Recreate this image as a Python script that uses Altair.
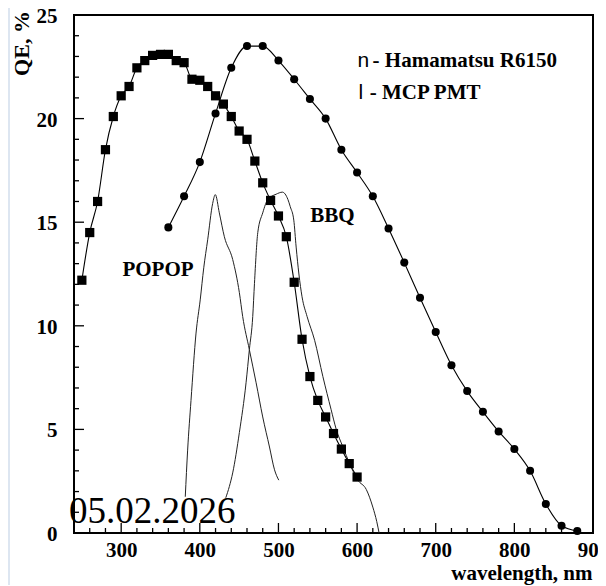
import altair as alt
import pandas as pd

# ---------------- data ----------------
ham_wl = [250, 260, 270, 280, 290, 300, 310, 320, 330, 340, 350, 360, 370, 380,
          390, 400, 410, 420, 430, 440, 450, 460, 470, 480, 490, 500, 510, 520,
          530, 540, 550, 560, 570, 580, 590, 600]
ham_qe = [12.2, 14.5, 16.0, 18.5, 20.1, 21.1, 21.55, 22.45, 22.8, 23.05, 23.1, 23.1,
          22.8, 22.7, 21.9, 21.85, 21.55, 21.1, 20.7, 20.1, 19.4, 19.0, 17.95, 16.9,
          16.05, 15.3, 14.3, 12.1, 9.35, 7.55, 6.4, 5.6, 4.8, 4.05, 3.35, 2.7]

mcp_wl = [360, 380, 400, 420, 440, 460, 480, 500, 520, 540, 560, 580, 600, 620,
          640, 660, 680, 700, 720, 740, 760, 780, 800, 820, 840, 860, 880]
mcp_qe = [14.75, 16.25, 17.9, 20.25, 22.45, 23.5, 23.5, 22.8, 21.9, 20.95, 20.0,
          18.5, 17.4, 16.25, 14.7, 13.05, 11.35, 9.7, 8.1, 6.85, 5.85, 4.9, 4.05,
          3.0, 1.4, 0.35, 0.1]

popop_wl = [381.5, 384.5, 388.8, 395.2, 400.5, 405, 410, 416.3, 419.7, 424.8, 431.2,
            441.8, 450.3, 454.5, 463, 471.6, 480, 488.6, 495, 500.4]
popop_em = [1.75, 4.0, 6.4, 9.65, 11.25, 12.8, 14.15, 15.9, 16.33, 15.45, 14.3,
            13.2, 11.6, 10.45, 8.85, 7.25, 5.6, 4.15, 3.05, 2.55]

bbq_wl = [433, 437.6, 441.8, 450.3, 458.8, 463, 467.3, 469.5, 473.7, 480, 486.5,
          497, 505, 512, 515, 519.5, 522.5, 526, 530, 536.4, 546, 556.5, 567,
          573.5, 582, 590.5, 601, 611.7, 620, 625, 628]
bbq_em = [1.7, 2.25, 2.9, 4.85, 7.25, 8.85, 10.45, 12.05, 14.5, 15.45, 16.1,
          16.35, 16.45, 16.1, 15.75, 15.1, 13.8, 12.5, 11.4, 10.45, 9.3, 7.55,
          5.95, 5.0, 4.15, 3.35, 2.55, 2.1, 1.25, 0.55, 0.0]

x_labels = [300, 400, 500, 600, 700, 800, 900]
y_labels = [0, 5, 10, 15, 20, 25]
x_major_ticks = [300, 400, 500, 600, 700, 800]
x_minor_ticks = [260, 280, 320, 340, 360, 380, 420, 440, 460, 480, 520, 540, 560,
                 580, 620, 640, 660, 680, 720, 740, 760, 780, 820, 840, 860, 880]
y_major_ticks = [5, 10, 15, 20]
y_minor_ticks = [1, 2, 3, 4, 6, 7, 8, 9, 11, 12, 13, 14, 16, 17, 18, 19, 21, 22, 23, 24]

curve_labels = ["POPOP", "BBQ"]
curve_label_x = [346.8, 568.7]
curve_label_y = [12.4, 15.0]

legend_symbols = ["n", "l"]
legend_sym_x = [600.6, 601.9]
legend_texts = ["- Hamamatsu R6150", "- MCP PMT"]
legend_text_x = [619.7, 616.0]
legend_y = [22.5, 20.93]

date_text = ["05.02.2026"]
date_x = [233.6]
date_y = [0.5]

# ---------------- chart ----------------
W, H = 519, 518
SERIF = "Liberation Serif"

xs = alt.Scale(domain=[240, 900], nice=False, zero=False)
ys = alt.Scale(domain=[0, 25], nice=False, zero=False)

x_axis = alt.Axis(values=x_labels, format="d", title="wavelength, nm", grid=False,
                  ticks=False, tickSize=0, domain=False, labelFont=SERIF,
                  labelFontWeight="bold", labelFontSize=21, labelColor="black",
                  labelPadding=6, labelFlush=False, labelOverlap=False,
                  titleFont=SERIF, titleFontWeight="bold", titleFontSize=21,
                  titleColor="black", titleX=518, titleY=46, titleAlign="right",
                  titleBaseline="alphabetic")
y_axis = alt.Axis(values=y_labels, format="d", title="QE, %", grid=False,
                  ticks=False, tickSize=0, domain=False, labelFont=SERIF,
                  labelFontWeight="bold", labelFontSize=21, labelColor="black",
                  labelPadding=17, labelOverlap=False, labelFlush=False,
                  labelOffset=1.5,
                  titleFont=SERIF, titleFontWeight="bold", titleFontSize=22,
                  titleColor="black", titleAngle=270, titleX=-53, titleY=28,
                  titleAlign="center", titleBaseline="middle")


def X(field):
    return alt.X(field, scale=xs, axis=x_axis)


def Y(field):
    return alt.Y(field, scale=ys, axis=y_axis)


ham = pd.DataFrame({"wl": ham_wl, "qe": ham_qe})
mcp = pd.DataFrame({"wl": mcp_wl, "qe": mcp_qe})
pop = pd.DataFrame({"wl": popop_wl, "qe": popop_em})
bbq = pd.DataFrame({"wl": bbq_wl, "qe": bbq_em})

ham_line = alt.Chart(ham).mark_line(color="black", strokeWidth=1.1, interpolate="monotone").encode(
    x=X("wl:Q"), y=Y("qe:Q"))
ham_pts = alt.Chart(ham).mark_point(shape="square", filled=True, color="black", size=85, opacity=1).encode(
    x=X("wl:Q"), y=Y("qe:Q"))

mcp_line = alt.Chart(mcp).mark_line(color="black", strokeWidth=1.1, interpolate="monotone").encode(
    x=X("wl:Q"), y=Y("qe:Q"))
mcp_pts = alt.Chart(mcp).mark_point(shape="circle", filled=True, color="black", size=65, opacity=1).encode(
    x=X("wl:Q"), y=Y("qe:Q"))

pop_line = alt.Chart(pop).mark_line(color="#222222", strokeWidth=1, interpolate="monotone").encode(
    x=X("wl:Q"), y=Y("qe:Q"))
bbq_line = alt.Chart(bbq).mark_line(color="#222222", strokeWidth=1, interpolate="monotone").encode(
    x=X("wl:Q"), y=Y("qe:Q"))


def xticks(vals, length):
    return alt.Chart(pd.DataFrame({"wl": vals})).mark_rule(color="black", strokeWidth=1.3).encode(
        x=X("wl:Q"), y=alt.value(H), y2=alt.value(H - length))


def yticks(vals, length):
    return alt.Chart(pd.DataFrame({"qe": vals})).mark_rule(color="black", strokeWidth=1.3).encode(
        y=Y("qe:Q"), x=alt.value(0), x2=alt.value(length))


labels_df = pd.DataFrame({"t": curve_labels, "wl": curve_label_x, "qe": curve_label_y})
curve_text = alt.Chart(labels_df).mark_text(font=SERIF, fontWeight="bold", fontSize=21,
                                            align="center", baseline="alphabetic", color="black").encode(
    x=X("wl:Q"), y=Y("qe:Q"), text="t:N")

sym_df = pd.DataFrame({"t": legend_symbols, "wl": legend_sym_x, "qe": legend_y})
sym_text = alt.Chart(sym_df).mark_text(font="Liberation Sans", fontSize=21, align="left",
                                       baseline="alphabetic", color="black").encode(
    x=X("wl:Q"), y=Y("qe:Q"), text="t:N")

leg_df = pd.DataFrame({"t": legend_texts, "wl": legend_text_x, "qe": legend_y})
leg_text = alt.Chart(leg_df).mark_text(font=SERIF, fontWeight="bold", fontSize=21, align="left",
                                       baseline="alphabetic", color="black").encode(
    x=X("wl:Q"), y=Y("qe:Q"), text="t:N")

date_df = pd.DataFrame({"t": date_text, "wl": date_x, "qe": date_y})
date_mark = alt.Chart(date_df).mark_text(font=SERIF, fontSize=37, align="left",
                                         baseline="alphabetic", color="black").encode(
    x=X("wl:Q"), y=Y("qe:Q"), text="t:N")

strip = alt.Chart(pd.DataFrame({"a": [0]})).mark_rect(color="#dde6f1").encode(
    x=alt.value(-66), x2=alt.value(-64), y=alt.value(-7), y2=alt.value(H + 52))

chart = alt.layer(
    ham_line, strip, pop_line, bbq_line, mcp_line, ham_pts, mcp_pts,
    xticks(x_major_ticks, 10), xticks(x_minor_ticks, 5),
    yticks(y_major_ticks, 10), yticks(y_minor_ticks, 5),
    curve_text, sym_text, leg_text, date_mark,
).properties(
    width=W, height=H,
    autosize=alt.AutoSizeParams(type="none"),
    padding={"left": 66, "top": 7, "right": 5, "bottom": 52},
    background="white",
).configure_view(stroke="black", strokeWidth=2)

chart.save("out.html", embed_options={"renderer": "svg", "actions": False})
